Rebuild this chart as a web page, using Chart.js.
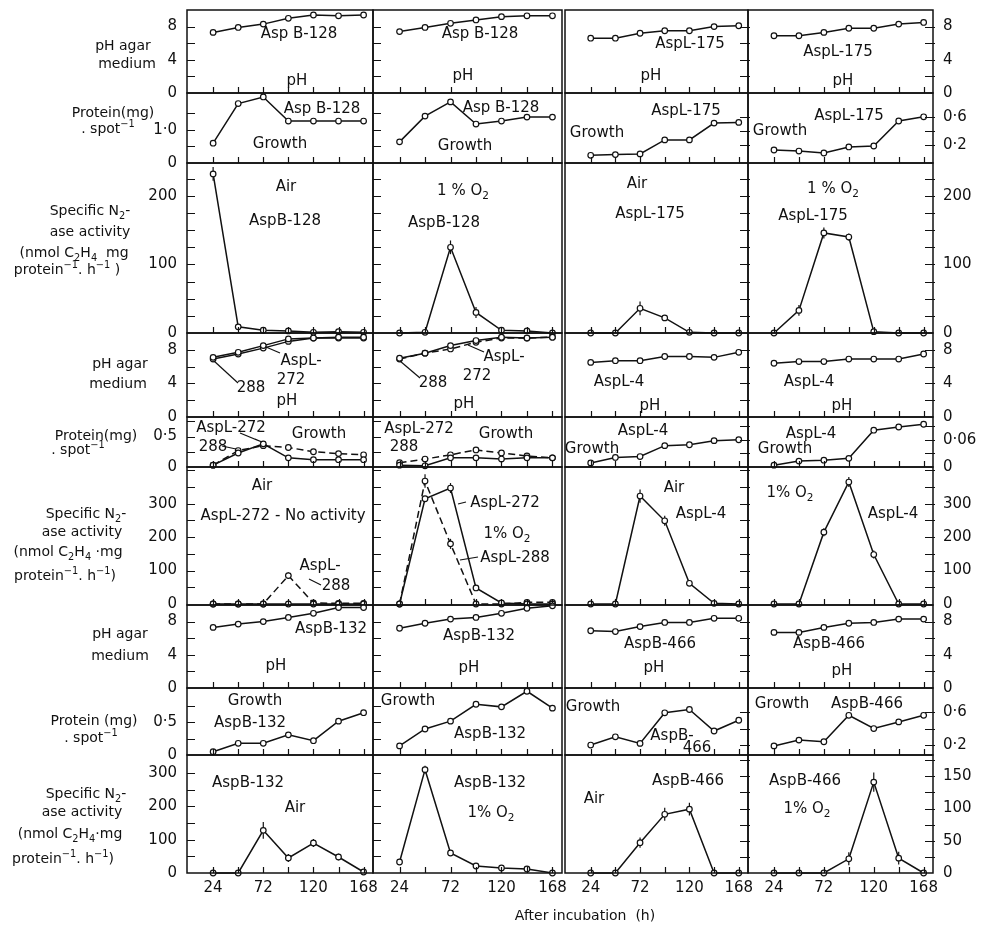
<!DOCTYPE html>
<html>
<head>
<meta charset="utf-8">
<script src="https://cdn.jsdelivr.net/npm/chart.js@4.4.0/dist/chart.umd.min.js"></script>
<style>
body { margin:0; background:#fff; }
#fig { position:relative; width:984px; height:928px; overflow:hidden; font-family:"DejaVu Sans", sans-serif; color:#111; }
#fig canvas { position:absolute; }
.t { position:absolute; font-size:15px; white-space:nowrap; line-height:1; transform:translate(-50%,-50%); }
.y { position:absolute; font-size:14px; white-space:nowrap; line-height:1; transform:translate(-50%,-50%); }
sub, sup { font-size:70%; line-height:0; }
#lead { position:absolute; left:0; top:0; }
</style>
</head>
<body>
<div id="fig"></div>
<script>
// hours after incubation
const hours = [24, 48, 72, 96, 120, 144, 168];
const hourTicks = [24, 48, 72, 96, 120, 144, 168];
const hourLabels = ['24', '72', '120', '168'];

// row 1 : pH, AspB-128 / AspL-175
const phB128Air = [7.3, 7.9, 8.3, 9.0, 9.4, 9.3, 9.4];
const phB128O2 = [7.4, 7.9, 8.4, 8.8, 9.2, 9.3, 9.3];
const phL175Air = [6.6, 6.6, 7.2, 7.5, 7.5, 8.0, 8.1];
const phL175O2 = [6.9, 6.9, 7.3, 7.8, 7.8, 8.3, 8.5];
// row 2 : protein
const protB128Air = [0.6, 1.8, 2.0, 1.27, 1.27, 1.27, 1.27];
const protB128O2 = [0.64, 1.42, 1.85, 1.18, 1.27, 1.39, 1.39];
const protL175Air = [0.05, 0.06, 0.07, 0.27, 0.27, 0.51, 0.52];
const protL175O2 = [0.126, 0.111, 0.083, 0.169, 0.183, 0.54, 0.6];
// row 3 : N2-ase
const n2B128Air = [232, 9, 4, 3, 1, 2, 1];
const n2B128AirErr = [10, 0, 0, 0, 0, 0, 0];
const n2B128O2 = [0, 1, 125, 30, 4, 3, 0];
const n2B128O2Err = [0, 0, 10, 8, 0, 0, 0];
const n2L175Air = [0, 0, 36, 22, 1, 0, 0];
const n2L175AirErr = [0, 0, 10, 0, 0, 0, 0];
const n2L175O2 = [0, 33, 146, 140, 2, 0, 0];
const n2L175O2Err = [0, 8, 8, 5, 0, 0, 0];

// row 4 : pH, AspL-272 / 288 / AspL-4
const phL272Air = [7.1, 7.7, 8.5, 9.3, 9.4, 9.5, 9.5];
const phL288Air = [6.9, 7.5, 8.2, 9.0, 9.4, 9.4, 9.4];
const phL272O2 = [7.0, 7.6, 8.5, 9.1, 9.5, 9.4, 9.5];
const phL288O2 = [6.9, 7.6, 8.1, 8.9, 9.4, 9.4, 9.5];
const phL4Air = [6.5, 6.7, 6.7, 7.2, 7.2, 7.1, 7.7];
const phL4O2 = [6.4, 6.6, 6.6, 6.9, 6.9, 6.9, 7.5];
// row 5 : protein
const protL272Air = [0.03, 0.23, 0.38, 0.15, 0.12, 0.12, 0.12];
const protL288Air = [0.03, 0.27, 0.35, 0.32, 0.25, 0.22, 0.2];
const protL272O2 = [0.03, 0.02, 0.15, 0.15, 0.13, 0.15, 0.15];
const protL288O2 = [0.07, 0.13, 0.2, 0.28, 0.23, 0.18, 0.15];
const protL4Air = [0.009, 0.021, 0.023, 0.047, 0.049, 0.058, 0.06];
const protL4O2 = [0.004, 0.013, 0.015, 0.019, 0.081, 0.088, 0.094];
// row 6 : N2-ase
const n2L272Air = [0, 0, 0, 0, 0, 0, 0];
const n2L288Air = [0, 0, 0, 85, 3, 2, 2];
const n2L288AirErr = [0, 0, 0, 10, 0, 0, 0];
const n2L272O2 = [0, 315, 347, 48, 3, 0, 0];
const n2L272O2Err = [0, 0, 15, 0, 0, 0, 0];
const n2L288O2 = [0, 368, 180, 0, 0, 5, 5];
const n2L288O2Err = [0, 20, 15, 0, 0, 0, 0];
const n2L4Air = [0, 0, 323, 249, 62, 2, 0];
const n2L4AirErr = [0, 0, 20, 15, 8, 0, 0];
const n2L4O2 = [0, 0, 215, 365, 148, 0, 0];
const n2L4O2Err = [0, 0, 12, 15, 12, 0, 0];

// row 7 : pH, AspB-132 / AspB-466
const phB132Air = [7.3, 7.7, 8.0, 8.5, 9.0, 9.7, 9.7];
const phB132O2 = [7.2, 7.8, 8.3, 8.5, 9.0, 9.6, 9.9];
const phB466Air = [6.9, 6.8, 7.4, 7.9, 7.9, 8.4, 8.4];
const phB466O2 = [6.7, 6.7, 7.3, 7.8, 7.9, 8.3, 8.3];
// row 8 : protein
const protB132Air = [0.05, 0.18, 0.18, 0.31, 0.22, 0.52, 0.65];
const protB132O2 = [0.14, 0.4, 0.52, 0.78, 0.74, 0.98, 0.72];
const protB466Air = [0.2, 0.3, 0.22, 0.59, 0.63, 0.37, 0.5];
const protB466O2 = [0.19, 0.26, 0.24, 0.56, 0.4, 0.48, 0.56];
// row 9 : N2-ase
const n2B132Air = [0, 0, 128, 45, 90, 48, 3];
const n2B132AirErr = [0, 0, 25, 12, 12, 10, 0];
const n2B132O2 = [33, 310, 60, 21, 15, 12, 0];
const n2B132O2Err = [0, 12, 0, 0, 0, 0, 0];
const n2B466Air = [0, 0, 47, 91, 99, 0, 0];
const n2B466AirErr = [0, 0, 8, 10, 10, 0, 0];
const n2B466O2 = [0, 0, 0, 22, 141, 23, 0];
const n2B466O2Err = [0, 0, 0, 10, 15, 10, 0];

// tick labels / tick marks
const phLabels = ['0', '4', '8'];
const phTicks = [2, 4, 6, 8];
const protTopLeftLabels = ['0', '1·0'];
const protTopLeftTicks = [0.5, 1, 1.5];
const protTopRightLabels = ['0·2', '0·6'];
const protTopRightTicks = [0.2, 0.4, 0.6];
const n2TopLabels = ['0', '100', '200'];
const n2TopTicks = [25, 50, 75, 100, 125, 150, 175, 200, 225];
const protMidLeftLabels = ['0', '0·5'];
const protMidLeftTicks = [0.25, 0.5, 0.75];
const protMidRightLabels = ['0', '0·06'];
const protMidRightTicks = [0.03, 0.06, 0.09];
const n2MidLabels = ['0', '100', '200', '300'];
const n2MidTicks = [50, 100, 150, 200, 250, 300, 350, 400];
const protLowLeftLabels = ['0', '0·5'];
const protLowLeftTicks = [0.25, 0.5, 0.75];
const protLowRightLabels = ['0·2', '0·6'];
const protLowRightTicks = [0.2, 0.4, 0.6];
const n2LowLeftLabels = ['0', '100', '200', '300'];
const n2LowLeftTicks = [50, 100, 150, 200, 250, 300];
const n2LowRightLabels = ['0', '50', '100', '150'];
const n2LowRightTicks = [25, 50, 75, 100, 125, 150, 175];

const INK = '#111';
const num = s => parseFloat(s.replace('·', '.'));

// panel geometry
const rowY = [10, 93, 163, 333, 417, 467, 605, 688, 755];
const rowH = [83, 70, 170, 84, 50, 138, 83, 67, 118];
const colX = [187, 373, 565, 748];
const colW = [186, 189, 183, 185];
const PAD = 28, AXL = 44, AXR = 50, AXB = 30;

// y scales per row : left pair of columns / right pair
const rows = [
  { L: { min: 0, max: 10, labels: phLabels, ticks: phTicks }, R: { min: 0, max: 10, labels: phLabels, ticks: phTicks } },
  { L: { min: 0, max: 2.12, labels: protTopLeftLabels, ticks: protTopLeftTicks }, R: { min: -0.06, max: 0.94, labels: protTopRightLabels, ticks: protTopRightTicks } },
  { L: { min: 0, max: 248, labels: n2TopLabels, ticks: n2TopTicks }, R: { min: 0, max: 248, labels: n2TopLabels, ticks: n2TopTicks } },
  { L: { min: 0, max: 10, labels: phLabels, ticks: phTicks }, R: { min: 0, max: 10, labels: phLabels, ticks: phTicks } },
  { L: { min: 0, max: 0.82, labels: protMidLeftLabels, ticks: protMidLeftTicks }, R: { min: 0, max: 0.11, labels: protMidRightLabels, ticks: protMidRightTicks } },
  { L: { min: -3, max: 410, labels: n2MidLabels, ticks: n2MidTicks }, R: { min: -3, max: 410, labels: n2MidLabels, ticks: n2MidTicks } },
  { L: { min: 0, max: 10, labels: phLabels, ticks: phTicks }, R: { min: 0, max: 10, labels: phLabels, ticks: phTicks } },
  { L: { min: 0, max: 1.03, labels: protLowLeftLabels, ticks: protLowLeftTicks }, R: { min: 0.08, max: 0.89, labels: protLowRightLabels, ticks: protLowRightTicks } },
  { L: { min: 0, max: 354, labels: n2LowLeftLabels, ticks: n2LowLeftTicks }, R: { min: 0, max: 183, labels: n2LowRightLabels, ticks: n2LowRightTicks } }
];

const S = (values, err, dash) => ({ values, err: err || null, dash: !!dash });

const panels = [
  [[S(phB128Air)], [S(phB128O2)], [S(phL175Air)], [S(phL175O2)]],
  [[S(protB128Air)], [S(protB128O2)], [S(protL175Air)], [S(protL175O2)]],
  [[S(n2B128Air, n2B128AirErr)], [S(n2B128O2, n2B128O2Err)], [S(n2L175Air, n2L175AirErr)], [S(n2L175O2, n2L175O2Err)]],
  [[S(phL272Air), S(phL288Air)], [S(phL272O2), S(phL288O2, null, true)], [S(phL4Air)], [S(phL4O2)]],
  [[S(protL272Air), S(protL288Air, null, true)], [S(protL272O2), S(protL288O2, null, true)], [S(protL4Air)], [S(protL4O2)]],
  [[S(n2L272Air), S(n2L288Air, n2L288AirErr, true)], [S(n2L272O2, n2L272O2Err), S(n2L288O2, n2L288O2Err, true)], [S(n2L4Air, n2L4AirErr)], [S(n2L4O2, n2L4O2Err)]],
  [[S(phB132Air)], [S(phB132O2)], [S(phB466Air)], [S(phB466O2)]],
  [[S(protB132Air)], [S(protB132O2)], [S(protB466Air)], [S(protB466O2)]],
  [[S(n2B132Air, n2B132AirErr)], [S(n2B132O2, n2B132O2Err)], [S(n2B466Air, n2B466AirErr)], [S(n2B466O2, n2B466O2Err)]]
];

const fig = document.getElementById('fig');

function framePlugin(series, yTicks, side) {
  return {
    id: 'frame',
    beforeDatasetsDraw(chart) {
      const { ctx, scales: { x, y } } = chart;
      ctx.save();
      ctx.strokeStyle = INK;
      ctx.lineWidth = 1.2;
      series.forEach(s => {
        if (!s.err) return;
        s.err.forEach((d, i) => {
          if (!d) return;
          const px = x.getPixelForValue(hours[i]);
          ctx.beginPath();
          ctx.moveTo(px, y.getPixelForValue(s.values[i] - d));
          ctx.lineTo(px, y.getPixelForValue(s.values[i] + d));
          ctx.stroke();
        });
      });
      ctx.restore();
    },
    afterDraw(chart) {
      const { ctx, chartArea: a, scales: { x, y } } = chart;
      ctx.save();
      ctx.strokeStyle = INK;
      ctx.lineWidth = 1.5;
      ctx.strokeRect(a.left, a.top, a.right - a.left, a.bottom - a.top);
      ctx.lineWidth = 1.2;
      ctx.beginPath();
      hourTicks.forEach(v => {
        const px = Math.round(x.getPixelForValue(v)) + 0.5;
        ctx.moveTo(px, a.bottom);
        ctx.lineTo(px, a.bottom - 6);
      });
      yTicks.forEach(v => {
        const py = Math.round(y.getPixelForValue(v)) + 0.5;
        if (side === 'left') { ctx.moveTo(a.left, py); ctx.lineTo(a.left + 8, py); }
        else { ctx.moveTo(a.right + 2, py); ctx.lineTo(a.right - 8, py); }
      });
      ctx.stroke();
      ctx.restore();
    }
  };
}

function drawPanel(r, c) {
  const series = panels[r][c];
  const sc = c < 2 ? rows[r].L : rows[r].R;
  const side = c < 2 ? 'left' : 'right';
  const showY = c === 0 || c === 3;
  const bottom = r === rows.length - 1;
  const axL = c === 0 ? AXL : 0, axR = c === 3 ? AXR : 0, axB = bottom ? AXB : 0;
  const w = colW[c] + 2 * PAD + axL + axR;
  const h = rowH[r] + 2 * PAD + axB;
  const cv = document.createElement('canvas');
  cv.width = w; cv.height = h;
  cv.style.left = (colX[c] - PAD - axL) + 'px';
  cv.style.top = (rowY[r] - PAD) + 'px';
  cv.style.width = w + 'px'; cv.style.height = h + 'px';
  fig.appendChild(cv);

  new Chart(cv, {
    type: 'line',
    data: {
      datasets: series.map(s => ({
        data: hours.map((hr, i) => ({ x: hr, y: s.values[i] })),
        borderColor: INK,
        borderWidth: 1.5,
        borderDash: s.dash ? [7, 4] : [],
        pointRadius: 2.8,
        pointBorderWidth: 1.2,
        pointBackgroundColor: '#fff',
        pointBorderColor: INK,
        tension: 0,
        clip: false
      }))
    },
    options: {
      responsive: false,
      animation: false,
      devicePixelRatio: 1,
      layout: { padding: PAD },
      plugins: { legend: { display: false }, tooltip: { enabled: false } },
      scales: {
        x: {
          type: 'linear', min: -1, max: 177, display: bottom,
          grid: { display: false, drawTicks: false }, border: { display: false },
          ticks: { autoSkip: false, padding: 6, color: INK, font: { family: 'DejaVu Sans', size: 15 } },
          afterBuildTicks: ax => { ax.ticks = hourLabels.map(s => ({ value: num(s) })); },
          afterFit: ax => { ax.height = axB; }
        },
        y: {
          type: 'linear', min: sc.min, max: sc.max, position: side, display: showY,
          grid: { display: false, drawTicks: false }, border: { display: false },
          ticks: {
            autoSkip: false, padding: 10, color: INK, font: { family: 'DejaVu Sans', size: 15 },
            callback: v => sc.labels.find(s => num(s) === v) || ''
          },
          afterBuildTicks: ax => { ax.ticks = sc.labels.map(s => ({ value: num(s) })); },
          afterFit: ax => { ax.width = axL + axR; }
        }
      }
    },
    plugins: [framePlugin(series, sc.ticks, side)]
  });
}

for (let r = 0; r < rows.length; r++) for (let c = 0; c < 4; c++) drawPanel(r, c);

// texts inside the panels [html, centre x, centre y]
const notes = [
  ['Asp B-128', 299, 33], ['pH', 297, 80], ['Asp B-128', 480, 33], ['pH', 463, 75],
  ['AspL-175', 690, 43], ['pH', 651, 75], ['AspL-175', 838, 51], ['pH', 843, 80],
  ['Asp B-128', 322, 108], ['Growth', 280, 143], ['Asp B-128', 501, 107], ['Growth', 465, 145],
  ['AspL-175', 686, 110], ['Growth', 597, 132], ['AspL-175', 849, 115], ['Growth', 780, 130],
  ['Air', 286, 186], ['AspB-128', 285, 220], ['1 % O<sub>2</sub>', 463, 190], ['AspB-128', 444, 222],
  ['Air', 637, 183], ['AspL-175', 650, 213], ['1 % O<sub>2</sub>', 833, 188], ['AspL-175', 813, 215],
  ['AspL-', 301, 360], ['272', 291, 379], ['pH', 287, 400], ['288', 251, 387],
  ['AspL-', 504, 356], ['272', 477, 375], ['288', 433, 382], ['pH', 464, 403],
  ['AspL-4', 619, 381], ['pH', 650, 405], ['AspL-4', 809, 381], ['pH', 842, 405],
  ['AspL-272', 231, 427], ['288', 213, 446], ['Growth', 319, 433],
  ['AspL-272', 419, 428], ['288', 404, 446], ['Growth', 506, 433],
  ['AspL-4', 643, 430], ['Growth', 592, 448], ['AspL-4', 811, 433], ['Growth', 785, 448],
  ['Air', 262, 485], ['AspL-272 - No activity', 283, 515], ['AspL-', 320, 565], ['288', 336, 585],
  ['AspL-272', 505, 502], ['1% O<sub>2</sub>', 507, 533], ['AspL-288', 515, 557],
  ['Air', 674, 487], ['AspL-4', 701, 513], ['1% O<sub>2</sub>', 790, 492], ['AspL-4', 893, 513],
  ['AspB-132', 331, 628], ['pH', 276, 665], ['AspB-132', 479, 635], ['pH', 469, 667],
  ['AspB-466', 660, 643], ['pH', 654, 667], ['AspB-466', 829, 643], ['pH', 842, 670],
  ['Growth', 255, 700], ['AspB-132', 250, 722], ['Growth', 408, 700], ['AspB-132', 490, 733],
  ['Growth', 593, 706], ['AspB-', 672, 735], ['466', 697, 747], ['Growth', 782, 703], ['AspB-466', 867, 703],
  ['AspB-132', 248, 782], ['Air', 295, 807], ['AspB-132', 490, 782], ['1% O<sub>2</sub>', 491, 812],
  ['Air', 594, 798], ['AspB-466', 688, 780], ['AspB-466', 805, 780], ['1% O<sub>2</sub>', 807, 808]
];

// axis titles on the left
const titles = [
  ['pH agar', 123, 45], ['medium', 127, 63],
  ['Protein(mg)', 113, 112], ['. spot<sup>−1</sup>', 108, 128],
  ['Specific N<sub>2</sub>-', 90, 210], ['ase activity', 90, 231], ['(nmol C<sub>2</sub>H<sub>4</sub>&nbsp; mg', 74, 252], ['protein<sup>−1</sup>. h<sup>−1</sup> )', 67, 269],
  ['pH agar', 120, 363], ['medium', 118, 383],
  ['Protein(mg)', 96, 435], ['. spot<sup>−1</sup>', 78, 449],
  ['Specific N<sub>2</sub>-', 86, 513], ['ase activity', 82, 531], ['(nmol C<sub>2</sub>H<sub>4</sub> ·mg', 68, 551], ['protein<sup>−1</sup>. h<sup>−1</sup>)', 65, 575],
  ['pH agar', 120, 633], ['medium', 120, 655],
  ['Protein (mg)', 94, 720], ['. spot<sup>−1</sup>', 91, 737],
  ['Specific N<sub>2</sub>-', 86, 793], ['ase activity', 82, 811], ['(nmol C<sub>2</sub>H<sub>4</sub>·mg', 70, 833], ['protein<sup>−1</sup>. h<sup>−1</sup>)', 63, 858],
  ['After incubation&nbsp; (h)', 585, 915]
];

function put(list, cls) {
  list.forEach(([html, x, y]) => {
    const d = document.createElement('div');
    d.className = cls;
    d.innerHTML = html;
    d.style.left = x + 'px';
    d.style.top = y + 'px';
    fig.appendChild(d);
  });
}
put(notes, 't');
put(titles, 'y');

// short leader lines from labels to curves
const leaders = [
  [238, 383, 214, 361], [280, 353, 266, 347],
  [420, 378, 400, 361], [484, 352, 468, 345],
  [240, 433, 262, 442], [222, 446, 236, 449],
  [321, 585, 309, 579],
  [466, 502, 458, 504], [478, 557, 460, 560]
];
const ns = 'http://www.w3.org/2000/svg';
const svg = document.createElementNS(ns, 'svg');
svg.setAttribute('id', 'lead');
svg.setAttribute('width', 984);
svg.setAttribute('height', 928);
leaders.forEach(([x1, y1, x2, y2]) => {
  const l = document.createElementNS(ns, 'line');
  l.setAttribute('x1', x1); l.setAttribute('y1', y1);
  l.setAttribute('x2', x2); l.setAttribute('y2', y2);
  l.setAttribute('stroke', INK); l.setAttribute('stroke-width', 1.2);
  svg.appendChild(l);
});
fig.appendChild(svg);
</script>
</body>
</html>
